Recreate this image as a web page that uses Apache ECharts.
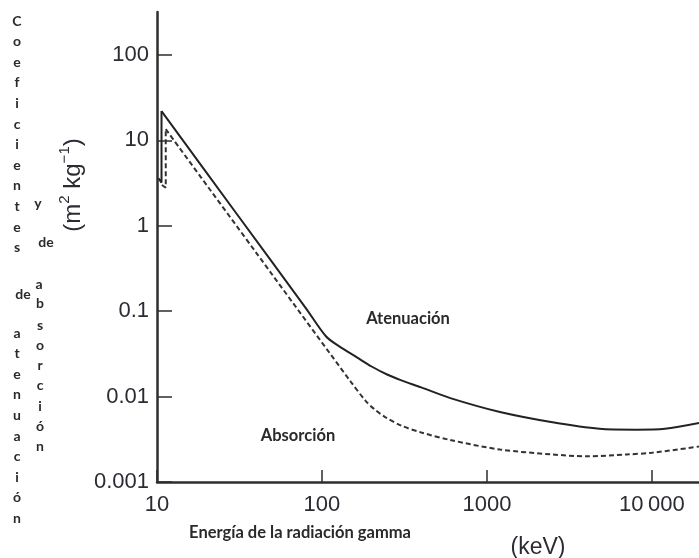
<!DOCTYPE html>
<html><head><meta charset="utf-8">
<script src="https://cdn.jsdelivr.net/npm/echarts@6/dist/echarts.min.js"></script>
<style>html,body{margin:0;padding:0;background:#fff}#c{width:699px;height:558px}</style>
</head><body><div id="c"></div>
<script>
// ---- data ----
const xTicks = [10, 100, 1000, 10000];
const xTickLabels = ['10', '100', '1000', '10\u2009000'];
const yTicks = [0.001, 0.01, 0.1, 1, 10, 100];
const yTickLabels = ['0.001', '0.01', '0.1', '1', '10', '100'];

// Atenuación (solid) – K-edge part and main curve
const attenEdge = [[10.2, 3.6], [10.65, 3.2], [10.65, 22]];
const attenuation = [[10.65, 22], [30, 1.43], [80, 0.108], [106, 0.0505], [128, 0.0384], [162, 0.029],
  [200, 0.0225], [250, 0.018], [300, 0.0156], [400, 0.0128], [600, 0.0096], [1200, 0.0066],
  [2500, 0.0050], [4800, 0.0042], [8000, 0.0041], [12000, 0.0042], [19300, 0.0049]];

// Absorción (dashed)
const absorbEdge = [[10.7, 3.0], [11.3, 2.8], [11.3, 13.5]];
const absorption = [[11.3, 13.5], [50, 0.267], [150, 0.0148], [185, 0.0088], [210, 0.0070], [240, 0.0058],
  [300, 0.0046], [400, 0.0038], [600, 0.0031], [1200, 0.0024], [2500, 0.0021], [4000, 0.0020],
  [7000, 0.0021], [10000, 0.0022], [19300, 0.0026]];

const titleCol1a = 'Coeficientes'.split('');
const titleCol1b = 'atenuación'.split('');
const titleCol2 = 'sorción'.split('');

// ---- chart ----
const chart = echarts.init(document.getElementById('c'), null, {renderer: 'canvas'});
const axisColor = '#2e2e2e';
const labelFont = {fontFamily: 'Liberation Sans, Arial, sans-serif', fontSize: 22, color: '#2b2b33'};
const small = {fontFamily: 'Lato, Open Sans, sans-serif', fontWeight: 'bold', fontSize: 14, fill: '#2a2a2a'};

function idx(v) { return Math.round(Math.log10(v)); }

const graphics = [];
function txt(text, x, y, extra) {
  graphics.push({type: 'text', x: x, y: y, silent: true,
    style: Object.assign({text: text, align: 'center', verticalAlign: 'middle'}, small, extra || {})});
}
titleCol1a.forEach((ch, i) => txt(ch, 17, 21 + i * 20.6));
titleCol1b.forEach((ch, i) => txt(ch, 17, 333 + i * 20.6));
txt('de', 23, 294);
txt('a', 39, 284);
txt('b', 40, 303);
titleCol2.forEach((ch, i) => txt(ch, 40, 325 + i * 20.3));
txt('y', 38, 203);
txt('de', 46, 242);
txt('Atenuación', 408, 319, {fontSize: 16.5});
txt('Absorción', 298, 436, {fontSize: 16.5});
txt('Energía de la radiación gamma', 300, 533, {fontSize: 16.5});
graphics.push({type: 'text', x: 538, y: 548, silent: true,
  style: {text: '(keV)', align: 'center', verticalAlign: 'middle', fontFamily: 'Liberation Sans, Arial, sans-serif', fontSize: 23, fill: '#2b2b33'}});
graphics.push({type: 'text', x: 71, y: 185, rotation: Math.PI / 2, silent: true,
  style: {text: '{m|(m}{s|2}{m| kg}{s|−1}{m|)}', align: 'center', verticalAlign: 'middle',
    rich: {
      m: {fontFamily: 'Liberation Sans, Arial, sans-serif', fontSize: 24, fill: '#2b2b33', lineHeight: 28, verticalAlign: 'bottom'},
      s: {fontFamily: 'Liberation Sans, Arial, sans-serif', fontSize: 15, fill: '#2b2b33', lineHeight: 28, verticalAlign: 'top'}
    }}});

const baseLine = {type: 'line', showSymbol: false, symbol: 'none', silent: true, animation: false};

chart.setOption({
  animation: false,
  backgroundColor: '#fff',
  grid: {left: 157, right: 0, top: 12, bottom: 76, containLabel: false, outerBoundsMode: 'none'},
  xAxis: {
    type: 'log', logBase: 10, min: 10, max: 19300,
    axisLine: {show: true, lineStyle: {color: axisColor, width: 2.5}},
    axisTick: {show: true, inside: true, length: 12, customValues: xTicks, lineStyle: {color: axisColor, width: 1.5}},
    axisLabel: Object.assign({customValues: xTicks, margin: 12, formatter: v => xTickLabels[idx(v) - 1]}, labelFont),
    splitLine: {show: false}, minorTick: {show: false}
  },
  yAxis: {
    type: 'log', logBase: 10, min: 0.001, max: 318,
    axisLine: {show: true, lineStyle: {color: axisColor, width: 2.5}},
    axisTick: {show: true, inside: true, length: 15, customValues: yTicks, lineStyle: {color: axisColor, width: 1.5}},
    axisLabel: Object.assign({customValues: yTicks, margin: 8, formatter: v => yTickLabels[idx(v) + 3]}, labelFont),
    splitLine: {show: false}, minorTick: {show: false}
  },
  series: [
    Object.assign({}, baseLine, {data: attenEdge, smooth: false, lineStyle: {color: '#222', width: 2}}),
    Object.assign({}, baseLine, {data: attenuation, smooth: 0.3, lineStyle: {color: '#222', width: 2}}),
    Object.assign({}, baseLine, {data: absorbEdge, smooth: false, lineStyle: {color: '#333', width: 2, type: [5, 3]}}),
    Object.assign({}, baseLine, {data: absorption, smooth: 0.3, lineStyle: {color: '#333', width: 2, type: [5, 3]}})
  ],
  graphic: graphics
});
</script></body></html>
